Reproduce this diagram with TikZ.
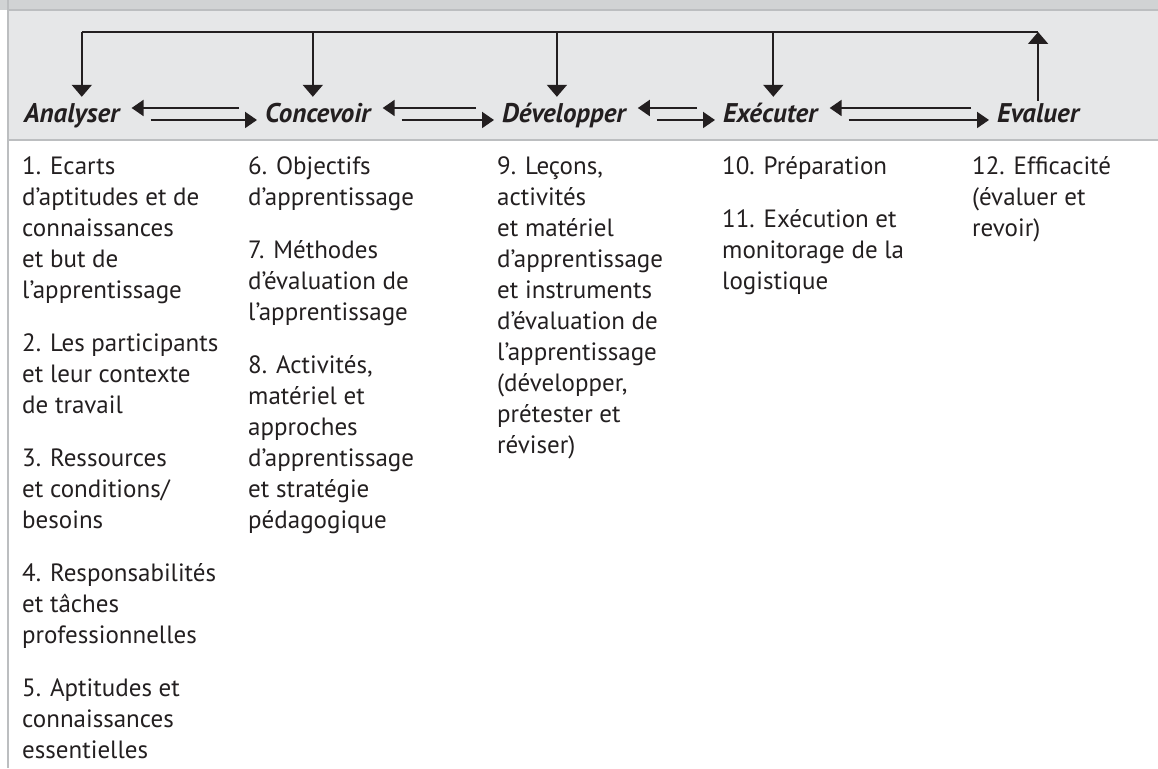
\documentclass[tikz,border=0pt]{standalone}
\usepackage{xcolor}
\usepackage{fontspec}
\setmainfont{PT Sans}
\usepackage{tikz}
\usetikzlibrary{arrows.meta,calc}

\definecolor{ink}{HTML}{231F20}
\definecolor{band}{HTML}{D1D3D4}
\definecolor{panel}{HTML}{E6E7E8}
\definecolor{rulegray}{HTML}{BCBEC0}

% first line of a step list starts with a fixed height
\newcommand{\firstline}{\rule{0pt}{20pt}}

\tikzset{
  phase/.style={anchor=base west, inner sep=0pt, text height=17pt, text depth=0pt,
    text=ink, font=\fontsize{27}{31}\selectfont\bfseries\itshape},
  steps/.style={anchor=north west, inner sep=0pt, align=left, text=ink,
    font=\fontsize{25}{31}\selectfont},
  link/.style={draw=ink, line width=2pt},
  downarrow/.style={link, -{Triangle[length=12pt,width=20pt]}},
  sidearrow/.style={link, -{Triangle[length=12pt,width=16pt]}},
}

\begin{document}
\begin{tikzpicture}[x=1pt, y=1pt]
    \useasboundingbox (0,0) rectangle (1158,768);

    % Grey header band and panel
    \fill[band] (0,758) rectangle (1158,768);
    \fill[panel] (8,628) rectangle (1158,758);
    \draw[rulegray, line width=1.5pt] (8,758) -- (1158,758);
    \draw[rulegray, line width=1.5pt] (8,628) -- (1158,628);
    \draw[rulegray, line width=1.5pt] (8,0) -- (8,768);

    % Phase names
    \foreach \x/\name/\label in {24/ana/Analyser, 265/con/Concevoir, 502/dev/Développer, 723/exe/Exécuter, 997/eva/Evaluer}
        \node[phase] (\name) at (\x,645) {\label};

    % Double arrows between neighbouring phases
    \foreach \a/\b in {ana/con, con/dev, dev/exe, exe/eva} {
        \draw[sidearrow] ($(\b.base west)+(-26pt,15pt)$) -- ($(\a.base east)+(12pt,15pt)$);
        \draw[sidearrow] ($(\a.base east)+(31pt,3pt)$) -- ($(\b.base west)+(-8pt,3pt)$);
    }

    % Feedback loop along the top
    \coordinate (loop) at (0,736);
    \foreach \name/\dx in {ana/10, con/-5, dev/-7, exe/3, eva/0}
        \coordinate (top\name) at ($(\name.north)+(\dx pt,9pt)$);
    \draw[link] (topana |- loop) -- (topeva |- loop);
    \foreach \name in {ana, con, dev, exe}
        \draw[downarrow] (top\name |- loop) -- (top\name);
    \draw[downarrow] ([yshift=5pt]eva.north) -- (topeva |- loop);

    % Steps under each phase
    \node[steps] (anasteps) at (22,614) {\firstline 1. Ecarts\\d’aptitudes et de\\connaissances\\et but de\\l’apprentissage\\[22pt]2. Les participants\\et leur contexte\\de travail\\[22pt]3. Ressources\\et conditions/\\besoins\\[22pt]4. Responsabilités\\et tâches\\professionnelles\\[22pt]5. Aptitudes et\\connaissances\\essentielles};
    \node[steps] (consteps) at (248,614) {\firstline 6. Objectifs\\d’apprentissage\\[22pt]7. Méthodes\\d’évaluation de\\l’apprentissage\\[22pt]8. Activités,\\matériel et\\approches\\d’apprentissage\\et stratégie\\pédagogique};
    \node[steps] (devsteps) at (497,614) {\firstline 9. Leçons,\\activités\\et matériel\\d’apprentissage\\et instruments\\d’évaluation de\\l’apprentissage\\(développer,\\prétester et\\réviser)};
    \node[steps] (exesteps) at (722,614) {\firstline 10. Préparation\\[22pt]11. Exécution et\\monitorage de la\\logistique};
    \node[steps] (evasteps) at (972,614) {\firstline 12. Efficacité\\(évaluer et\\revoir)};
\end{tikzpicture}
\end{document}
